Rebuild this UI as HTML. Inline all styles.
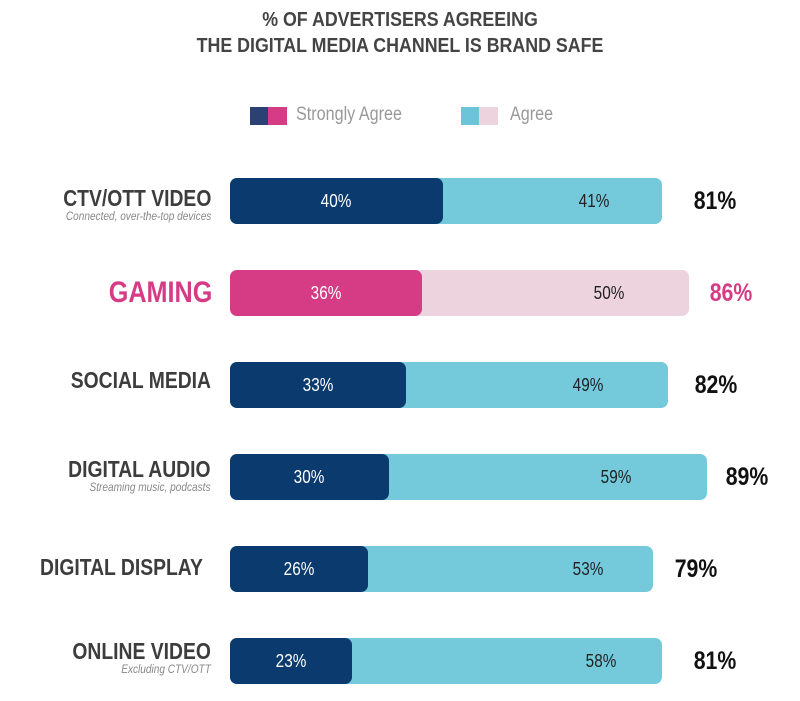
<!DOCTYPE html>
<html><head><meta charset="utf-8"><style>
body{margin:0;width:800px;height:701px;background:#fff;position:relative;overflow:hidden;font-family:"Liberation Sans",sans-serif;}
.a{position:absolute;}
.t{left:0;width:800px;text-align:center;font-weight:bold;font-size:20px;color:#444;line-height:26px;transform:scaleX(0.89);}
.bar{position:absolute;left:230px;height:46px;border-radius:7px;}
.c{position:absolute;transform:translateX(-50%) scaleX(0.85);font-size:18px;line-height:46px;white-space:nowrap;}
.lab{position:absolute;right:589px;text-align:right;white-space:nowrap;transform:scaleX(0.84);transform-origin:right center;}
.m{font-size:23px;font-weight:bold;color:#3d3d3d;line-height:24px;}
.s{font-size:12px;font-style:italic;color:#888;line-height:13px;}
.tot{position:absolute;font-size:25px;font-weight:bold;line-height:46px;transform:translateX(-50%) scaleX(0.85);color:#111;}
.lg{font-size:19px;color:#999;transform:scaleX(0.85);transform-origin:left center;white-space:nowrap;}
</style></head><body>
<div class="a t" style="top:7px">% OF ADVERTISERS AGREEING</div>
<div class="a t" style="top:33px">THE DIGITAL MEDIA CHANNEL IS BRAND SAFE</div>
<div class="a" style="left:250px;top:107px;width:18px;height:18px;background:#2b4173"></div>
<div class="a" style="left:268px;top:107px;width:19px;height:18px;background:#d63c86"></div>
<div class="a lg" style="left:296px;top:104px">Strongly Agree</div>
<div class="a" style="left:461px;top:107px;width:18px;height:18px;background:#6cc4d8"></div>
<div class="a" style="left:479px;top:107px;width:19px;height:18px;background:#ecd3de"></div>
<div class="a lg" style="left:510px;top:104px">Agree</div>

<div class="bar" style="top:178px;width:432px;background:#74c9da"></div>
<div class="bar" style="top:178px;width:213px;background:#0b3a6e"></div>
<div class="c" style="top:178px;left:336px;color:#fff">40%</div>
<div class="c" style="top:178px;left:594px;color:#222">41%</div>
<div class="tot" style="top:178px;left:715px">81%</div>
<div class="lab" style="top:186px"><div class="m">CTV/OTT VIDEO</div><div class="s">Connected, over-the-top devices</div></div>

<div class="bar" style="top:270px;width:459px;background:#ecd3de"></div>
<div class="bar" style="top:270px;width:192px;background:#d63c86"></div>
<div class="c" style="top:270px;left:326px;color:#fff">36%</div>
<div class="c" style="top:270px;left:609px;color:#222">50%</div>
<div class="tot" style="top:270px;left:731px;color:#d63c86">86%</div>
<div class="lab" style="top:278px;right:588px"><div class="m" style="color:#d63c86;font-size:30px;line-height:30px">GAMING</div></div>

<div class="bar" style="top:362px;width:438px;background:#74c9da"></div>
<div class="bar" style="top:362px;width:176px;background:#0b3a6e"></div>
<div class="c" style="top:362px;left:318px;color:#fff">33%</div>
<div class="c" style="top:362px;left:588px;color:#222">49%</div>
<div class="tot" style="top:362px;left:716px">82%</div>
<div class="lab" style="top:368px"><div class="m">SOCIAL MEDIA</div></div>

<div class="bar" style="top:454px;width:477px;background:#74c9da"></div>
<div class="bar" style="top:454px;width:159px;background:#0b3a6e"></div>
<div class="c" style="top:454px;left:309px;color:#fff">30%</div>
<div class="c" style="top:454px;left:616px;color:#222">59%</div>
<div class="tot" style="top:454px;left:747px">89%</div>
<div class="lab" style="top:457px"><div class="m">DIGITAL AUDIO</div><div class="s">Streaming music, podcasts</div></div>

<div class="bar" style="top:546px;width:423px;background:#74c9da"></div>
<div class="bar" style="top:546px;width:138px;background:#0b3a6e"></div>
<div class="c" style="top:546px;left:299px;color:#fff">26%</div>
<div class="c" style="top:546px;left:588px;color:#222">53%</div>
<div class="tot" style="top:546px;left:696px">79%</div>
<div class="lab" style="top:555px;right:597px"><div class="m">DIGITAL DISPLAY</div></div>

<div class="bar" style="top:638px;width:432px;background:#74c9da"></div>
<div class="bar" style="top:638px;width:122px;background:#0b3a6e"></div>
<div class="c" style="top:638px;left:291px;color:#fff">23%</div>
<div class="c" style="top:638px;left:601px;color:#222">58%</div>
<div class="tot" style="top:638px;left:715px">81%</div>
<div class="lab" style="top:639px"><div class="m">ONLINE VIDEO</div><div class="s">Excluding CTV/OTT</div></div>
</body></html>
